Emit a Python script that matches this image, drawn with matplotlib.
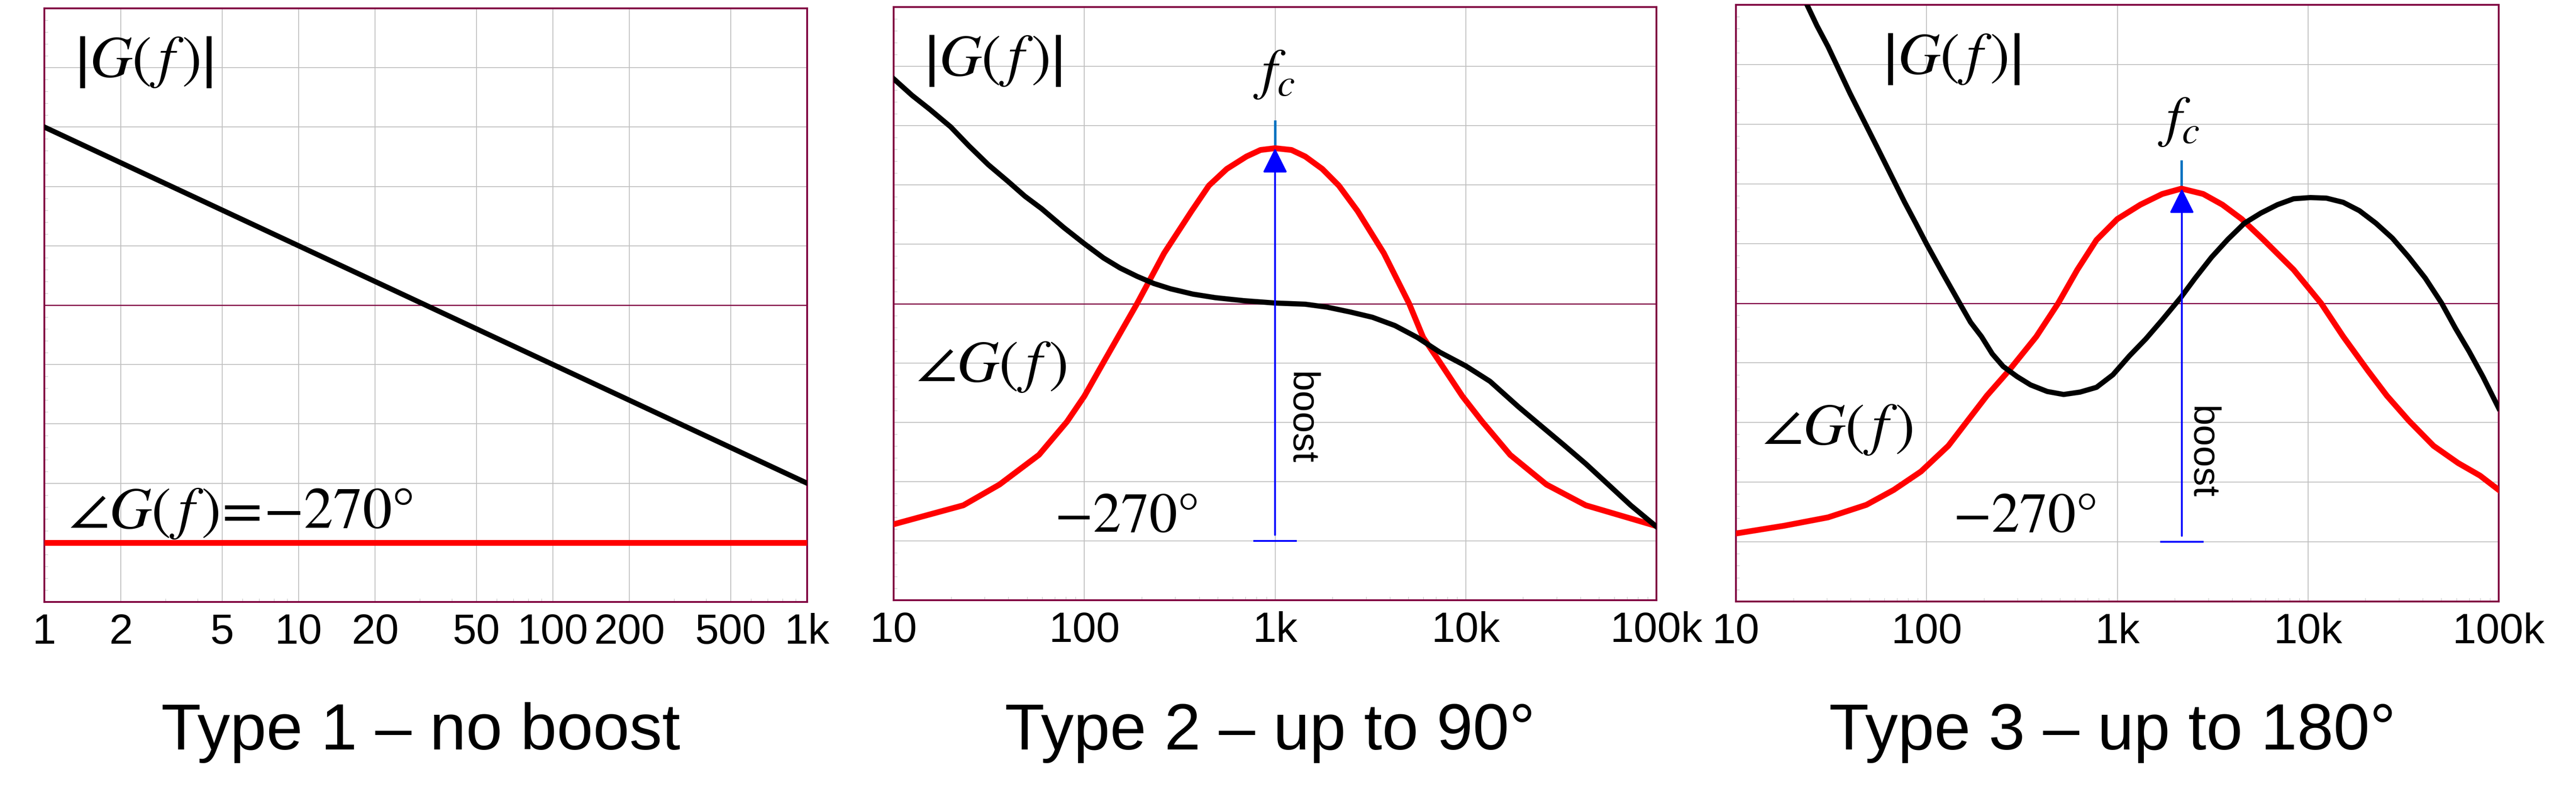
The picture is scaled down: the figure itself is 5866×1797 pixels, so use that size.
import matplotlib
matplotlib.use("Agg")
import matplotlib.pyplot as plt
from matplotlib import font_manager
from matplotlib.patches import ArrowStyle
from matplotlib.ticker import FixedLocator, NullFormatter, MultipleLocator

# ---- dados ----
# Tipo 1: ganho cai reto, fase constante em -270 graus
f_tipo1 = [1, 1000]
ganho_tipo1 = [3.0, -3.0]
fase_tipo1 = [-4.0, -4.0]

# Tipo 2
f_fase_tipo2 = [10, 23.2, 35.9, 57.8, 81.1, 100, 126, 154, 189, 262, 365, 450, 558, 708, 839, 1000,
                1220, 1440, 1770, 2160, 2710, 3720, 5050, 5980, 7320, 9600, 12200, 17100,
                26500, 42600, 100000]
fase_tipo2 = [-3.72, -3.40, -3.05, -2.55, -1.99, -1.56, -0.99, -0.50, 0.0, 0.85, 1.56, 1.99, 2.27,
              2.48, 2.59, 2.62,
              2.59, 2.48, 2.27, 1.99, 1.56, 0.85, 0.0, -0.57, -0.99, -1.56, -1.99, -2.55,
              -3.05, -3.40, -3.75]
f_ganho_tipo2 = [10, 12.5, 15.4, 19.9, 24.8, 31.4, 39.8, 48.8, 59.7, 78.2, 100, 126, 154, 189,
                 231, 283, 371, 487, 683, 1000, 1440, 1880, 2470, 3240, 4250, 5570, 7320,
                 10000, 13400, 18900, 24800, 32600, 42600, 55900, 73300, 100000]
ganho_tipo2 = [3.79, 3.51, 3.28, 2.98, 2.66, 2.34, 2.06, 1.81, 1.60, 1.28, 1.01, 0.77, 0.60, 0.46,
               0.34, 0.25, 0.16, 0.10, 0.05, 0.01, -0.01, -0.06, -0.14, -0.23, -0.37, -0.57, -0.82,
               -1.05, -1.31, -1.74, -2.06, -2.38, -2.70, -3.05, -3.40, -3.76]

# Tipo 3
f_fase_tipo3 = [10, 17.9, 30.4, 48.3, 67.2, 93.5, 130, 164, 207, 270, 376, 490, 617, 778, 1000,
                1320, 1720, 2170, 2820, 3560, 4490, 5850, 8410, 11700, 15300, 20600, 25900,
                33800, 45500, 61300, 79800, 100000]
fase_tipo3 = [-3.86, -3.73, -3.59, -3.38, -3.13, -2.82, -2.39, -1.97, -1.55, -1.13, -0.56, 0.0,
              0.56, 1.06, 1.41, 1.65, 1.83, 1.92, 1.83, 1.65, 1.41, 1.06, 0.56, 0.0, -0.56,
              -1.13, -1.55, -1.97, -2.39, -2.68, -2.89, -3.13]
f_ganho_tipo3 = [23.6, 26.6, 30.4, 34.7, 39.6, 46.8, 55.1, 65.0, 76.7, 87.7, 100, 122, 149, 170,
                 194, 221, 252, 298, 351, 429, 523, 638, 778, 948, 1160, 1410, 1720, 2170, 2560,
                 3120, 3800, 4640, 5660, 6910, 8410, 10300, 12500, 15300, 18600, 22700, 27700,
                 33800, 41200, 50200, 59300, 70000, 82600, 100000]
ganho_tipo3 = [5.0, 4.65, 4.30, 3.91, 3.52, 3.06, 2.61, 2.15, 1.69, 1.34, 0.99, 0.49, 0.0, -0.32,
               -0.56, -0.85, -1.06, -1.23, -1.37, -1.48, -1.53, -1.49, -1.41, -1.20, -0.88, -0.60,
               -0.28, 0.11, 0.42, 0.77, 1.07, 1.34, 1.51, 1.65, 1.75, 1.77, 1.76, 1.69, 1.55,
               1.34, 1.09, 0.77, 0.42, 0.0, -0.42, -0.81, -1.23, -1.76]

# frequencia central, pico de fase e nivel de -270 graus
f_centro = [1000, 2180]
pico_fase = [2.62, 1.92]
nivel_270 = -4.0

titulos = ["Type 1 \u2013 no boost", "Type 2 \u2013 up to 90\u00b0", "Type 3 \u2013 up to 180\u00b0"]
ticks_tipo1 = [1, 2, 5, 10, 20, 50, 100, 200, 500, 1000]
rotulos_tipo1 = ["1", "2", "5", "10", "20", "50", "100", "200", "500", "1k"]
ticks_decada = [10, 100, 1000, 10000, 100000]
rotulos_decada = ["10", "100", "1k", "10k", "100k"]

# ---- estilo ----
ROXO = "#800040"
CINZA = "#C0C0C0"
nomes = {f.name for f in font_manager.fontManager.ttflist}
FONTE_TICK = "Liberation Sans Narrow" if "Liberation Sans Narrow" in nomes else "Liberation Sans"
plt.rcParams["mathtext.fontset"] = "stix"
plt.rcParams["font.family"] = ["Liberation Sans", "DejaVu Sans"]

W, H = 5866, 1797
fig = plt.figure(figsize=(W / 100, H / 100), dpi=100)


def criar_eixo(esq, dir_, topo, base, xmin, xmax, ticks, rotulos, minor):
    ax = fig.add_axes([esq / W, (H - base) / H, (dir_ - esq) / W, (base - topo) / H])
    ax.set_xscale("log")
    ax.set_xlim(xmin, xmax)
    ax.set_ylim(-5, 5)
    ax.xaxis.set_major_locator(FixedLocator(ticks))
    ax.xaxis.set_minor_locator(FixedLocator(minor))
    ax.xaxis.set_minor_formatter(NullFormatter())
    ax.set_xticklabels(rotulos, fontfamily=FONTE_TICK, fontsize=70)
    ax.yaxis.set_major_locator(MultipleLocator(1))
    ax.yaxis.set_minor_locator(MultipleLocator(0.2))
    ax.tick_params(axis="both", which="major", length=0, pad=18)
    ax.tick_params(axis="y", which="major", labelleft=False)
    ax.tick_params(axis="both", which="minor", direction="in", length=6,
                   width=0.8, color=CINZA)
    ax.tick_params(axis="y", which="minor", left=True, right=False)
    ax.tick_params(axis="x", which="minor", bottom=True, top=False)
    ax.grid(True, which="major", color=CINZA, linewidth=1.4)
    ax.set_axisbelow(True)
    for s in ax.spines.values():
        s.set_color(ROXO)
        s.set_linewidth(3)
    ax.axhline(0, color=ROXO, linewidth=1.8, zorder=1.5)
    return ax


def menores(decadas):
    return [m * d for d in decadas for m in range(2, 10)]


ax1 = criar_eixo(101, 1838, 19, 1371, 1, 1000, ticks_tipo1, rotulos_tipo1,
                 [3, 4, 6, 7, 8, 9, 30, 40, 60, 70, 80, 90, 300, 400, 600, 700, 800, 900])
ax2 = criar_eixo(2035, 3772, 16, 1367, 10, 100000, ticks_decada, rotulos_decada,
                 menores([10, 100, 1000, 10000]))
ax3 = criar_eixo(3953, 5690, 11, 1370, 10, 100000, ticks_decada, rotulos_decada,
                 menores([10, 100, 1000, 10000]))

LW_PRETO = 8.5
LW_VERMELHO = 9.5
TAM_MAT = 96
MODULO = r"$\left|G\left(\,f\,\right)\right|$"
ANGULO = r"$\angle G\left(\,f\,\right)$"

# Tipo 1
ax1.plot(f_tipo1, ganho_tipo1, color="black", lw=LW_PRETO, zorder=3)
ax1.plot(f_tipo1, fase_tipo1, color="red", lw=LW_VERMELHO, zorder=3, solid_capstyle="butt")
ax1.text(2.45, 4.1, MODULO, fontsize=TAM_MAT, ha="center", va="center")
ax1.text(1.25, -3.5, r"$\angle G\left(\,f\,\right)\!=\!{-}270\degree$", fontsize=TAM_MAT,
         ha="left", va="center")

# Tipo 2 e 3
paineis = [
    (ax2, f_fase_tipo2, fase_tipo2, f_ganho_tipo2, ganho_tipo2),
    (ax3, f_fase_tipo3, fase_tipo3, f_ganho_tipo3, ganho_tipo3),
]
for i, (ax, ff, fase, fg, ganho) in enumerate(paineis):
    fc = f_centro[i]
    pico = pico_fase[i]
    ax.plot(ff, fase, color="red", lw=LW_VERMELHO, zorder=3)
    ax.plot(fg, ganho, color="black", lw=LW_PRETO, zorder=3)
    # marca de fc acima do pico
    ax.plot([fc, fc], [pico, pico + 0.45], color="#0070C0", lw=4, zorder=2.5)
    # seta de boost
    estilo = ArrowStyle("-|>", head_length=1.0, head_width=0.5)
    ax.annotate("", xy=(fc, pico), xytext=(fc, nivel_270 + 0.1),
                arrowprops=dict(arrowstyle=estilo, color="blue", lw=3,
                                mutation_scale=35, shrinkA=0, shrinkB=0),
                zorder=4)
    ax.plot([fc / 10 ** 0.115, fc * 10 ** 0.115], [nivel_270, nivel_270],
            color="blue", lw=3, zorder=4, solid_capstyle="butt")

ax2.text(33, 4.1, MODULO, fontsize=TAM_MAT, ha="center", va="center")
ax2.text(32.5, -1.06, ANGULO, fontsize=TAM_MAT, ha="center", va="center")
ax2.text(165, -3.6, r"$-270\degree$", fontsize=92, ha="center", va="center")
ax2.text(990, 3.87, r"$f_c$", fontsize=92, ha="center", va="center")
ax2.text(1360, -1.93, "boost", fontsize=62, rotation=-90, ha="center", va="center")

ax3.text(135, 4.1, MODULO, fontsize=TAM_MAT, ha="center", va="center")
ax3.text(34.2, -2.11, ANGULO, fontsize=TAM_MAT, ha="center", va="center")
ax3.text(324, -3.59, r"$-270\degree$", fontsize=92, ha="center", va="center")
ax3.text(2100, 3.04, r"$f_c$", fontsize=92, ha="center", va="center")
ax3.text(2750, -2.5, "boost", fontsize=62, rotation=-90, ha="center", va="center")

for ax, titulo in zip([ax1, ax2, ax3], titulos):
    pos = ax.get_position()
    fig.text(pos.x0 + pos.width / 2 - 0.002, 90 / H, titulo, fontsize=107,
             ha="center", va="baseline")

fig.savefig("out.png", dpi=100)
plt.close(fig)
